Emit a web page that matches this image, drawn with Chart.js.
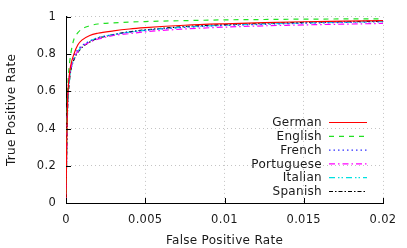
<!DOCTYPE html>
<html>
<head>
<meta charset="utf-8">
<script src="https://cdn.jsdelivr.net/npm/chart.js@4"></script>
<style>
  html, body { margin: 0; padding: 0; background: #fff; }
  #wrap { width: 407px; height: 248px; }
</style>
</head>
<body>
<div id="wrap"><canvas id="roc" width="407" height="248"></canvas></div>
<script>
// false positive rate (x) shared by all curves
const fpr = [0, 0.00005, 0.0001, 0.0002, 0.0003, 0.0005, 0.00075, 0.001, 0.0015, 0.002, 0.003, 0.004, 0.005, 0.0075, 0.01, 0.0125, 0.015, 0.0175, 0.02];

// true positive rate per language
const german     = [0, 0.35, 0.55, 0.68, 0.74, 0.80, 0.85, 0.875, 0.90, 0.912, 0.925, 0.935, 0.942, 0.955, 0.963, 0.969, 0.974, 0.977, 0.980];
const english    = [0, 0.40, 0.60, 0.73, 0.80, 0.88, 0.915, 0.935, 0.952, 0.962, 0.968, 0.972, 0.975, 0.980, 0.984, 0.986, 0.988, 0.989, 0.990];
const french     = [0, 0.35, 0.55, 0.67, 0.73, 0.79, 0.825, 0.845, 0.870, 0.888, 0.905, 0.918, 0.928, 0.944, 0.954, 0.960, 0.966, 0.970, 0.974];
const portuguese = [0, 0.33, 0.53, 0.66, 0.72, 0.78, 0.815, 0.840, 0.865, 0.880, 0.900, 0.910, 0.920, 0.935, 0.945, 0.952, 0.957, 0.961, 0.965];
const italian    = [0, 0.30, 0.50, 0.64, 0.71, 0.775, 0.815, 0.840, 0.870, 0.888, 0.905, 0.918, 0.928, 0.945, 0.955, 0.962, 0.967, 0.971, 0.975];
const spanish    = [0, 0.30, 0.50, 0.64, 0.71, 0.77, 0.81, 0.835, 0.865, 0.885, 0.905, 0.920, 0.930, 0.948, 0.958, 0.965, 0.970, 0.974, 0.977];

const xTicks = [0, 0.005, 0.01, 0.015, 0.02];
const xTickLabels = ['0', '0.005', '0.01', '0.015', '0.02'];
const yTicks = [0, 0.2, 0.4, 0.6, 0.8, 1];
const yTickLabels = ['0', '0.2', '0.4', '0.6', '0.8', '1'];

const FONT = 'DejaVu Sans';
const TEXT = '#1a1a1a';

function pts(ys) {
    return fpr.map((x, i) => ({ x: x, y: ys[i] }));
}

function series(label, ys, color, dash) {
    return {
        label: label,
        data: pts(ys),
        borderColor: color,
        backgroundColor: color,
        borderWidth: 1.2,
        borderDash: dash,
        pointRadius: 0,
        fill: false,
        cubicInterpolationMode: 'monotone'
    };
}

// slightly spaced lettering like the gnuplot cairo output
const spacing = {
    id: 'spacing',
    beforeDraw(chart) {
        chart.ctx.letterSpacing = '0.3px';
    }
};

// gnuplot style inward ticks on left and bottom axes
const innerTicks = {
    id: 'innerTicks',
    afterDatasetsDraw(chart) {
        const ctx = chart.ctx;
        const xs = chart.scales.x, ys = chart.scales.y;
        const a = chart.chartArea;
        ctx.save();
        ctx.strokeStyle = '#000';
        ctx.lineWidth = 1;
        ctx.setLineDash([]);
        ctx.beginPath();
        xTicks.forEach(v => {
            const px = Math.round(xs.getPixelForValue(v)) + 0.5;
            ctx.moveTo(px, a.bottom);
            ctx.lineTo(px, a.bottom - 5);
        });
        yTicks.forEach(v => {
            const py = Math.round(ys.getPixelForValue(v)) + 0.5;
            ctx.moveTo(a.left, py);
            ctx.lineTo(a.left + 5, py);
        });
        ctx.stroke();
        ctx.restore();
    }
};

// key in the lower right corner, labels right aligned before the sample line
const keyBox = {
    id: 'keyBox',
    afterDraw(chart) {
        const ctx = chart.ctx;
        const a = chart.chartArea;
        const textRight = a.right - 61;
        const lineStart = a.right - 54;
        const lineEnd = a.right - 16;
        const rowH = 13.8;
        const firstY = a.bottom - 80.5;
        ctx.save();
        ctx.font = '12px "' + FONT + '"';
        ctx.letterSpacing = '0.3px';
        ctx.textAlign = 'right';
        ctx.textBaseline = 'middle';
        chart.data.datasets.forEach((ds, i) => {
            const y = firstY + i * rowH;
            ctx.fillStyle = TEXT;
            ctx.fillText(ds.label, textRight, y + 0.5);
            ctx.strokeStyle = ds.borderColor;
            ctx.lineWidth = 1.2;
            ctx.setLineDash(ds.borderDash);
            ctx.beginPath();
            ctx.moveTo(lineStart, y);
            ctx.lineTo(lineEnd, y);
            ctx.stroke();
        });
        ctx.restore();
    }
};

const ctx = document.getElementById('roc').getContext('2d');
new Chart(ctx, {
    type: 'line',
    data: {
        datasets: [
            series('German', german, '#ff0000', []),
            series('English', english, '#22e022', [5, 5]),
            series('French', french, '#3030ff', [1.5, 3]),
            series('Portuguese', portuguese, '#ff00ff', [6, 3, 1.5, 3]),
            series('Italian', italian, '#00e0e0', [6, 3, 1.5, 2, 1.5, 3]),
            series('Spanish', spanish, '#000000', [4, 2, 1.5, 2])
        ]
    },
    options: {
        responsive: false,
        animation: false,
        layout: { padding: { top: 16, right: 24, left: 0, bottom: 0 } },
        plugins: {
            legend: { display: false },
            tooltip: { enabled: false }
        },
        scales: {
            x: {
                type: 'linear',
                min: 0,
                max: 0.02,
                afterFit: s => { s.height = 45; },
                afterBuildTicks: s => { s.ticks = xTicks.map(v => ({ value: v })); },
                ticks: {
                    padding: 10,
                    color: TEXT,
                    font: { family: FONT, size: 11.5 },
                    maxRotation: 0,
                    callback: (v) => xTickLabels[xTicks.indexOf(v)]
                },
                grid: { color: '#c4c4c4', lineWidth: 1, drawTicks: false },
                border: { display: true, color: '#000', width: 1, dash: [1, 3] },
                title: {
                    display: true,
                    text: 'False Positive Rate',
                    color: TEXT,
                    font: { family: FONT, size: 12 },
                    padding: { top: 0, bottom: 0.4 }
                }
            },
            y: {
                type: 'linear',
                min: 0,
                max: 1,
                afterFit: s => { s.width = 66; },
                afterBuildTicks: s => { s.ticks = yTicks.map(v => ({ value: v })); },
                ticks: {
                    padding: 10,
                    color: TEXT,
                    font: { family: FONT, size: 11.5 },
                    callback: (v) => yTickLabels[yTicks.indexOf(v)]
                },
                grid: { color: '#c4c4c4', lineWidth: 1, drawTicks: false },
                border: { display: true, color: '#000', width: 1, dash: [1, 3] },
                title: {
                    display: true,
                    text: 'True Positive Rate',
                    color: TEXT,
                    font: { family: FONT, size: 12 },
                    padding: { top: 4.2, bottom: 0 }
                }
            }
        }
    },
    plugins: [spacing, innerTicks, keyBox]
});
</script>
</body>
</html>
